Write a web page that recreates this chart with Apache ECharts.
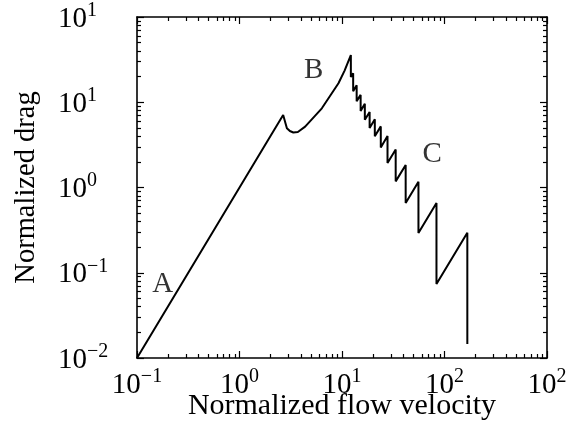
<!DOCTYPE html>
<html>
<head>
<meta charset="utf-8">
<script src="https://cdn.jsdelivr.net/npm/echarts@6/dist/echarts.min.js"></script>
<style>html,body{margin:0;padding:0;background:#fff;}#c{width:566px;height:427px;}</style>
</head>
<body>
<div id="c"></div>
<script>
// ---- data ----
const curveX = [0.1, 1.85, 2.667, 2.90, 3.10, 3.35, 3.71, 4.37, 6.36, 9.24, 10.6, 12.2,
  12.2, 12.85, 12.85, 13.9, 13.9, 15.2, 15.2, 16.7, 16.7, 18.6, 18.6, 20.9, 20.9, 23.9, 23.9,
  27.8, 27.8, 33.4, 33.4, 41.8, 41.8, 55.7, 55.7, 83.5, 83.5, 167, 167];
const curveY = [0.01, 3.42, 7.09, 4.95, 4.60, 4.42, 4.48, 5.17, 8.49, 16.7, 23.5, 35.8,
  19.8, 21.9, 13.5, 15.8, 10.3, 12.2, 7.91, 9.59, 6.23, 7.69, 4.99, 6.31, 3.99, 5.21, 2.95,
  4.02, 1.94, 2.79, 1.18, 1.84, 0.658, 1.17, 0.293, 0.658, 0.0738, 0.295, 0.0146];

const xTickValues = [0.1, 1, 10, 100, 1000];
const xTickExps = ['\u22121', '0', '1', '2', '2'];
const yTickValues = [0.01, 0.1, 1, 10, 100];
const yTickExps = ['\u22122', '\u22121', '0', '1', '1'];

const labelNames = ['A', 'B', 'C'];
const labelX = [0.178, 5.3, 76];
const labelY = [0.074, 23.5, 2.45];

const xTitle = 'Normalized flow velocity';
const yTitle = 'Normalized drag';

// ---- helpers ----
function minors(lo, hi) {
  const out = [];
  for (let d = lo; d < hi; d++) {
    for (let k = 2; k <= 9; k++) out.push(+(k * Math.pow(10, d)).toPrecision(3));
  }
  return out;
}
const xMinor = minors(-1, 3);
const yMinor = minors(-2, 2);

const FONT = 'Liberation Serif';
const rich = {
  b: { fontSize: 29, fontFamily: FONT, color: '#000', lineHeight: 33, verticalAlign: 'bottom' },
  s: { fontSize: 20, fontFamily: FONT, color: '#000', lineHeight: 33, verticalAlign: 'top' }
};
function fmt(vals, exps) {
  return function (v) {
    let idx = 0, best = Infinity;
    vals.forEach((t, i) => { const d = Math.abs(Math.log10(t) - Math.log10(v)); if (d < best) { best = d; idx = i; } });
    return '{b|10}{s|' + exps[idx] + '}';
  };
}
const lineStyle = { color: '#000', width: 1.6 };

function axis(pos, min, max, ticks, len, showLine, label) {
  const a = {
    type: 'log', logBase: 10, min: min, max: max, position: pos,
    axisLine: { show: showLine, lineStyle: lineStyle },
    axisTick: { show: true, inside: true, length: len, customValues: ticks, lineStyle: { color: '#000', width: 1.2 } },
    axisLabel: { show: false },
    splitLine: { show: false },
    minorTick: { show: false },
    minorSplitLine: { show: false }
  };
  if (label) Object.assign(a, label);
  return a;
}

const xLabel = {
  axisLabel: { show: true, customValues: xTickValues, formatter: fmt(xTickValues, xTickExps), rich: rich, margin: 9 },
  name: xTitle, nameLocation: 'middle', nameGap: 33, nameMoveOverlap: false,
  nameTextStyle: { fontFamily: FONT, fontSize: 30, color: '#000' }
};
const yLabel = {
  axisLabel: { show: true, customValues: yTickValues, formatter: fmt(yTickValues, yTickExps), rich: rich, margin: 79, align: 'left' },
  name: yTitle, nameLocation: 'middle', nameGap: 96, nameMoveOverlap: false,
  nameTextStyle: { fontFamily: FONT, fontSize: 28.5, color: '#000' }
};

const chart = echarts.init(document.getElementById('c'), null, { renderer: 'canvas' });
chart.setOption({
  backgroundColor: '#fff',
  animation: false,
  grid: { left: 137, right: 19, top: 17, bottom: 69, containLabel: false, outerBoundsMode: 'none' },
  xAxis: [
    axis('bottom', 0.1, 1000, xTickValues, 7, true, xLabel),
    axis('bottom', 0.1, 1000, xMinor, 4, false),
    axis('top', 0.1, 1000, xTickValues, 7, true),
    axis('top', 0.1, 1000, xMinor, 4, false)
  ],
  yAxis: [
    axis('left', 0.01, 100, yTickValues, 7, true, yLabel),
    axis('left', 0.01, 100, yMinor, 4, false),
    axis('right', 0.01, 100, yTickValues, 7, true),
    axis('right', 0.01, 100, yMinor, 4, false)
  ],
  series: [
    {
      type: 'line', xAxisIndex: 0, yAxisIndex: 0,
      data: curveX.map((x, i) => [x, curveY[i]]),
      showSymbol: false, symbol: 'none',
      lineStyle: { color: '#000', width: 2 },
      silent: true
    },
    {
      type: 'scatter', xAxisIndex: 0, yAxisIndex: 0,
      data: labelX.map((x, i) => ({ value: [x, labelY[i]], name: labelNames[i] })),
      symbolSize: 0,
      label: { show: true, position: 'inside', formatter: p => p.name, fontFamily: FONT, fontSize: 29, color: '#000' },
      silent: true
    }
  ]
});
</script>
</body>
</html>
